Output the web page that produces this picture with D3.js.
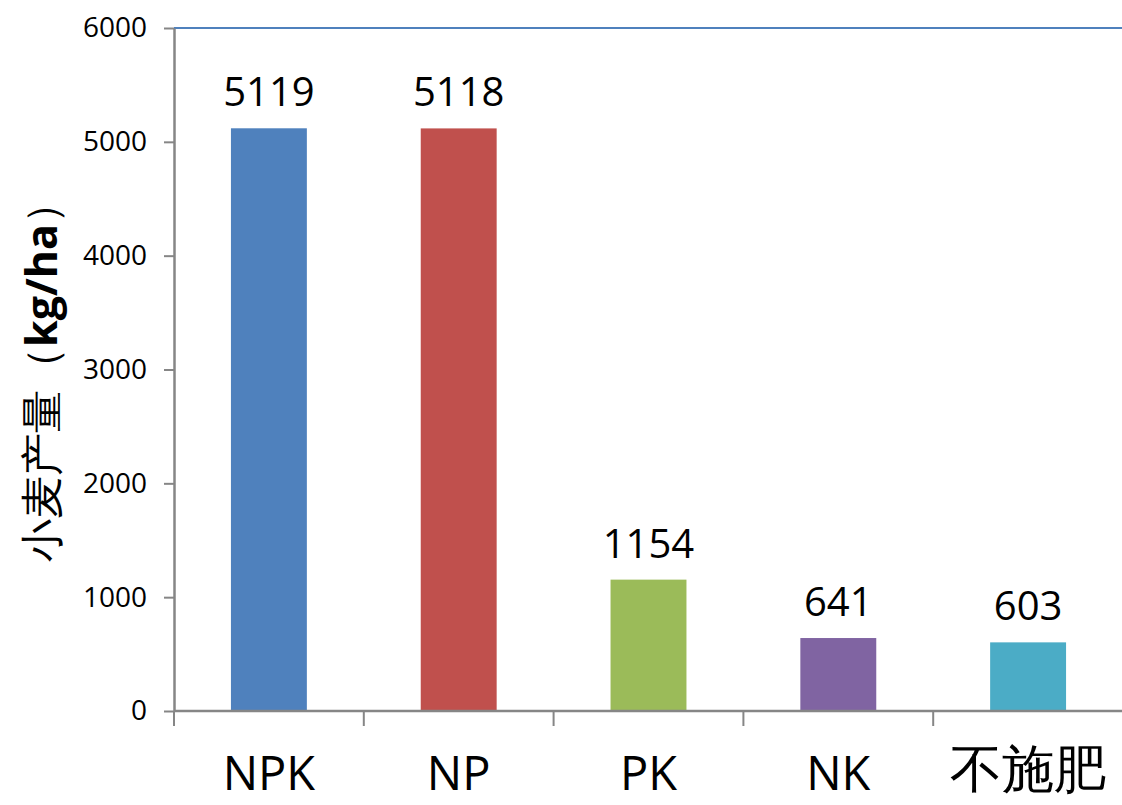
<!DOCTYPE html>
<html>
<head>
<meta charset="utf-8">
<script src="https://cdn.jsdelivr.net/npm/d3@7"></script>
<style>
  body { margin: 0; background: #fff; }
  text { font-family: "Open Sans", sans-serif; }
</style>
</head>
<body>
<script>
var categories = ["NPK", "NP", "PK", "NK", "不施肥"];
var yields = [5119, 5118, 1154, 641, 603];
var barColors = ["#4F81BD", "#C0504D", "#9BBB59", "#8064A2", "#4BACC6"];
var yTicks = [0, 1000, 2000, 3000, 4000, 5000, 6000];

const canvWidth = 1122, canvHeight = 805;
const plot = {left: 174, right: 1123, top: 28, bottom: 711};

const svg = d3.select("body").append("svg")
    .attr("width", canvWidth)
    .attr("height", canvHeight);

var xScale = d3.scaleBand()
    .domain(categories)
    .range([plot.left, plot.right])
    .paddingInner(0.6)
    .paddingOuter(0.3);

var yScale = d3.scaleLinear()
    .domain([0, 6000])
    .range([plot.bottom, plot.top]);

function isCJK(s) {
    return /[\u4e00-\u9fff]/.test(s);
}

// top border line
svg.append("line")
    .attr("x1", plot.left).attr("x2", plot.right)
    .attr("y1", yScale(6000)).attr("y2", yScale(6000))
    .attr("stroke", "#4F81BD")
    .attr("stroke-width", 2);

// bars
svg.selectAll("rect.bar")
    .data(categories)
    .enter()
    .append("rect")
    .attr("class", "bar")
    .attr("x", d => xScale(d))
    .attr("width", xScale.bandwidth())
    .attr("y", (d, i) => yScale(yields[i]))
    .attr("height", (d, i) => yScale(0) - yScale(yields[i]))
    .attr("fill", (d, i) => barColors[i]);

// value labels
svg.selectAll("text.val")
    .data(categories)
    .enter()
    .append("text")
    .attr("class", "val")
    .attr("x", d => xScale(d) + xScale.bandwidth() / 2)
    .attr("y", (d, i) => yScale(yields[i]) - 22)
    .attr("text-anchor", "middle")
    .attr("font-size", "40px")
    .attr("fill", "#000")
    .text((d, i) => yields[i]);

// y axis
var yAxis = d3.axisLeft(yScale)
    .tickValues(yTicks)
    .tickFormat(d3.format("d"))
    .tickSize(10)
    .tickPadding(17)
    .tickSizeOuter(0);
var yg = svg.append("g")
    .attr("transform", "translate(" + plot.left + ",0)")
    .call(yAxis);
yg.select(".domain").attr("stroke", "#868686").attr("stroke-width", 2.5);
yg.selectAll(".tick line").attr("stroke", "#868686").attr("stroke-width", 2);
yg.selectAll(".tick text")
    .attr("font-family", "'Open Sans', sans-serif")
    .attr("font-size", "28px")
    .attr("fill", "#000");

// x axis line
svg.append("line")
    .attr("x1", plot.left).attr("x2", plot.right)
    .attr("y1", yScale(0)).attr("y2", yScale(0))
    .attr("stroke", "#868686")
    .attr("stroke-width", 2.5);

// boundary ticks between categories
var step = xScale.step();
var bounds = categories.map(d => xScale(d) - step * 0.3);
bounds.push(xScale(categories[categories.length - 1]) + xScale.bandwidth() + step * 0.3);
svg.selectAll("line.xtick")
    .data(bounds)
    .enter()
    .append("line")
    .attr("class", "xtick")
    .attr("x1", d => d).attr("x2", d => d)
    .attr("y1", yScale(0)).attr("y2", yScale(0) + 15)
    .attr("stroke", "#868686")
    .attr("stroke-width", 2);

// category labels
svg.selectAll("text.cat")
    .data(categories)
    .enter()
    .append("text")
    .attr("class", "cat")
    .attr("x", d => xScale(d) + xScale.bandwidth() / 2)
    .attr("y", d => isCJK(d) ? 787 : 790)
    .attr("text-anchor", "middle")
    .attr("font-family", d => isCJK(d) ? "'Noto Sans CJK SC', sans-serif" : "'Open Sans', sans-serif")
    .attr("font-weight", d => isCJK(d) ? 300 : 400)
    .attr("font-size", d => isCJK(d) ? "52px" : "47px")
    .attr("fill", "#000")
    .text(d => d);

// y axis title
var yTitle = svg.append("text")
    .attr("transform", "translate(57," + ((plot.top + plot.bottom) / 2 + 2) + ") rotate(-90)")
    .attr("text-anchor", "middle")
    .attr("font-family", "'Noto Sans CJK SC', sans-serif")
    .attr("font-size", "43px")
    .attr("fill", "#000");
yTitle.append("tspan").text("小麦产量（");
yTitle.append("tspan").attr("font-weight", "bold").attr("font-family", "'Open Sans', sans-serif").text("kg/ha");
yTitle.append("tspan").text("）");
</script>
</body>
</html>
